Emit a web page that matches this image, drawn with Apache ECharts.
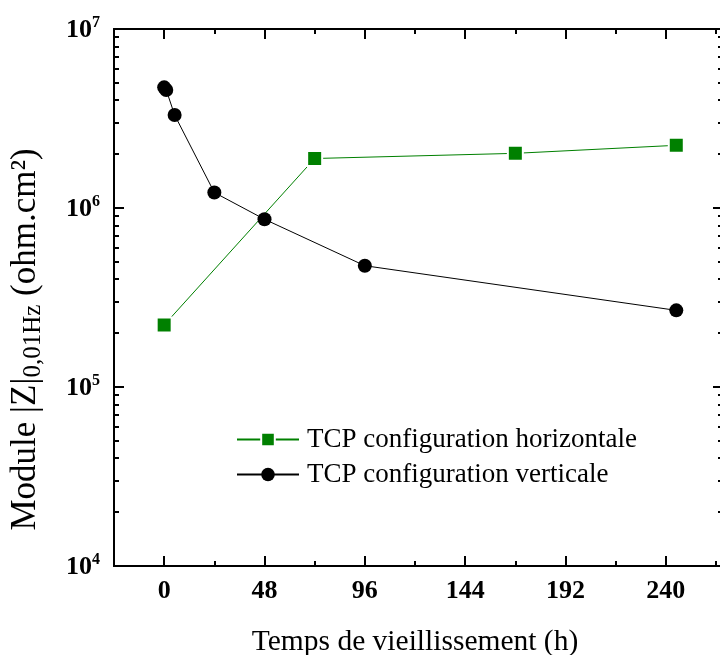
<!DOCTYPE html>
<html>
<head>
<meta charset="utf-8">
<style>html,body{margin:0;padding:0;background:#fff;}#chart{width:720px;height:655px;}</style>
<script src="https://cdn.jsdelivr.net/npm/echarts@6/dist/echarts.min.js"></script>
</head>
<body>
<div id="chart"></div>
<script>
// ---- data ----
var hoursHoriz = [0, 72, 168, 245];
var zHoriz = [2.22e5, 1.89e6, 2.02e6, 2.24e6];
var hoursVert = [0, 1, 5, 24, 48, 96, 245];
var zVert = [4.72e6, 4.56e6, 3.31e6, 1.22e6, 8.65e5, 4.76e5, 2.68e5];
var xMajorTicks = [0, 48, 96, 144, 192, 240];
var xMinorTicks = [-24, 24, 72, 120, 168, 216, 264];
var yMajorTicks = [1e4, 1e5, 1e6, 1e7];
var seriesNames = ['TCP configuration horizontale', 'TCP configuration verticale'];
var xTitle = 'Temps de vieillissement (h)';

var yMinorTicks = [];
[1e4, 1e5, 1e6].forEach(function (d) { for (var k = 2; k <= 9; k++) yMinorTicks.push(k * d); });

var FONT = 'Liberation Serif';
var chart = echarts.init(document.getElementById('chart'));

function pairs(xs, ys) { return xs.map(function (x, i) { return [x, ys[i]]; }); }

var lineStyleAxis = { color: '#000', width: 2 };

function xAx(pos, ticks, len, labels, name) {
  var a = {
    type: 'value', position: pos, min: -24, max: 264,
    axisLine: { show: true, onZero: false, lineStyle: lineStyleAxis },
    axisTick: { show: true, inside: true, length: len, customValues: ticks, lineStyle: { color: '#000', width: 2 } },
    axisLabel: labels ? { show: true, customValues: xMajorTicks, fontFamily: FONT, fontWeight: 'bold', fontSize: 26, color: '#000', margin: 12 } : { show: false },
    splitLine: { show: false }
  };
  if (name) {
    a.name = name; a.nameLocation = 'middle'; a.nameGap = 61;
    a.nameTextStyle = { fontFamily: FONT, fontSize: 29.5, color: '#000' };
  }
  return a;
}

function yAx(pos, ticks, len, labels, offset, showLine, name) {
  var a = {
    type: 'log', logBase: 10, position: pos, min: 1e4, max: 1e7, offset: offset || 0,
    axisLine: { show: showLine, onZero: false, lineStyle: lineStyleAxis },
    axisTick: { show: true, inside: true, length: len, customValues: ticks, lineStyle: { color: '#000', width: 2 } },
    axisLabel: labels ? {
      show: true, customValues: yMajorTicks, margin: 14,
      formatter: function (v) { return '{b|10}{s|' + Math.round(Math.log10(v)) + '}'; },
      rich: {
        b: { fontFamily: FONT, fontWeight: 'bold', fontSize: 26, color: '#000', verticalAlign: 'bottom', lineHeight: 26 },
        s: { fontFamily: FONT, fontWeight: 'bold', fontSize: 16, color: '#000', verticalAlign: 'top', padding: [0, 0, 13, 0] }
      }
    } : { show: false },
    splitLine: { show: false }
  };
  if (name) {
    a.name = name; a.nameLocation = 'middle'; a.nameGap = 68; a.nameRotate = 90;
    a.nameTextStyle = {
      padding: [0, 84, 0, 0],
      rich: {
        n: { fontFamily: FONT, fontSize: 35, color: '#000', lineHeight: 40, verticalAlign: 'middle' },
        sub: { fontFamily: FONT, fontSize: 25, color: '#000', verticalAlign: 'bottom', padding: [14, 0, 0, 0] }
      }
    };
  }
  return a;
}

var option = {
  animation: false,
  backgroundColor: '#fff',
  grid: { left: 114, right: 4, top: 29, bottom: 89, containLabel: false, outerBoundsMode: 'none' },
  legend: {
    orient: 'vertical', left: 236, top: 426, padding: 0, itemWidth: 62, itemHeight: 17, itemGap: 8,
    textStyle: { fontFamily: FONT, fontSize: 27, color: '#000', lineHeight: 27, padding: [0, 0, 0, 3] },
    data: seriesNames
  },
  xAxis: [
    xAx('bottom', xMajorTicks, 10, true, xTitle),
    xAx('bottom', xMinorTicks, 5, false),
    xAx('top', xMajorTicks, 10, false),
    xAx('top', xMinorTicks, 5, false)
  ],
  yAxis: [
    yAx('left', yMajorTicks, 10, true, 0, true, '{n|Module |Z|}{sub|0,01Hz}{n| (ohm.cm²)}'),
    yAx('left', yMinorTicks, 5, false, 0, false),
    yAx('right', yMajorTicks, 7, false, 4, false),
    yAx('right', yMinorTicks, 2, false, 4, false)
  ],
  series: [
    {
      name: seriesNames[0], type: 'line', xAxisIndex: 0, yAxisIndex: 0,
      data: pairs(hoursHoriz, zHoriz),
      symbol: 'rect', symbolSize: 15,
      lineStyle: { color: '#008000', width: 1 },
      itemStyle: { color: '#008000', borderColor: '#fff', borderWidth: 2 },
      z: 3
    },
    {
      name: seriesNames[1], type: 'line', xAxisIndex: 0, yAxisIndex: 0,
      data: pairs(hoursVert, zVert),
      symbol: 'circle', symbolSize: 14,
      lineStyle: { color: '#000', width: 1 },
      itemStyle: { color: '#000', borderWidth: 0 },
      z: 4
    }
  ]
};
chart.setOption(option);
</script>
</body>
</html>
